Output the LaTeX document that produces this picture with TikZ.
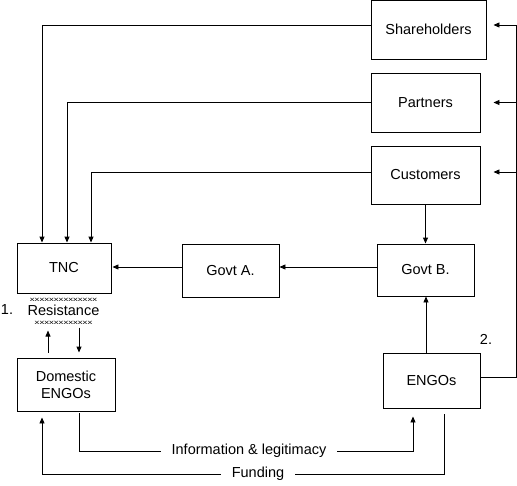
\documentclass[tikz,border=0pt]{standalone}
\usepackage{fontspec}
\setmainfont{Liberation Sans}
\usepackage{graphicx}
\usetikzlibrary{arrows.meta}

\begin{document}
\begin{tikzpicture}[x=1pt, y=-1pt, line width=0.9pt,
	box/.style={draw, rectangle, inner sep=0pt},
	link/.style={-{Triangle[length=6pt,width=5pt]}},
	lbl/.style={fill=white, inner xsep=11pt, inner ysep=1pt},
	tiny/.style={inner sep=0pt, font=\fontsize{6}{6}\selectfont},
	every node/.style={font=\fontsize{14.5}{17}\selectfont}]

	\useasboundingbox (0,0) rectangle (517,485);

	% boxes
	\node[box, minimum width=115, minimum height=59] (share) at (428.5,29.5) {Shareholders};
	\node[box, minimum width=109, minimum height=59] (partners) at (425.5,102.5) {Partners};
	\node[box, minimum width=109, minimum height=58] (customers) at (425.5,175) {Customers};
	\node[box, minimum width=94, minimum height=50] (tnc) at (64,268) {TNC};
	\node[box, minimum width=97, minimum height=53] (govta) at (230.5,270.5) {Govt A.};
	\node[box, minimum width=97, minimum height=52] (govtb) at (425.5,270) {Govt B.};
	\node[box, minimum width=98, minimum height=53, align=center] (dengo) at (66,384.5) {Domestic\\ENGOs};
	\node[box, minimum width=97, minimum height=55] (engo) at (431.5,380.5) {ENGOs};

	% resistance
	\node[inner sep=0pt] (res) at (63.5,310) {Resistance};
	\node[tiny] (xtop) at (63.5,300) {\scalebox{1.6}[1]{xxxxxxxxxxxxxx}};
	\node[tiny] (xbot) at (63.5,322.5) {\scalebox{1.6}[1]{xxxxxxxxxxxx}};
	\node (one) at (7,310) {1.};
	\node (two) at (486,339) {2.};

	% stakeholders to TNC
	\draw[link] ([yshift=4.5]share.west) -| ([xshift=-22]tnc.north);
	\draw[link] (partners.west) -| ([xshift=3]tnc.north);
	\draw[link] ([yshift=3]customers.west) -| ([xshift=27]tnc.north);

	% middle row
	\draw[link] (customers.south) -- (govtb.north);
	\draw[link] ([yshift=3]govtb.west) -- ([yshift=3]govtb.west -| govta.east);
	\draw[link, shorten >=1pt] ([yshift=3]govtb.west -| govta.west) -- ([yshift=3]govtb.west -| tnc.east);
	\draw[link] ([xshift=-5.5]engo.north) -- ([xshift=-5.5]engo.north |- govtb.south);

	% right bus
	\coordinate (bustop) at (516,25);
	\draw ([yshift=3.5]engo.east) -| (bustop);
	\draw[link, shorten >=7pt] (bustop) -- ([yshift=4.5]share.east);
	\draw[link, shorten >=13pt] (partners.east -| bustop) -- (partners.east);
	\draw[link, shorten >=13pt] ([yshift=3]customers.east -| bustop) -- ([yshift=3]customers.east);

	% resistance arrows
	\draw[link, shorten <=5pt] ([xshift=-18]dengo.north) -- ++(0,-27);
	\draw[link, shorten >=5pt] ([xshift=13, yshift=30]dengo.north) -- ([xshift=13]dengo.north);

	% bottom loops
	\draw[link, shorten <=2pt, shorten >=8pt] ([xshift=13]dengo.south) -- ++(0,40) -| ([xshift=-18.5]engo.south);
	\draw[link, shorten <=6pt, shorten >=6pt] ([xshift=12.5]engo.south) -- ++(0,66) -| ([xshift=-24]dengo.south);
	\node[lbl] (info) at (249,451) {Information \& legitimacy};
	\node[lbl] (fund) at (258,474) {Funding};
\end{tikzpicture}
\end{document}
